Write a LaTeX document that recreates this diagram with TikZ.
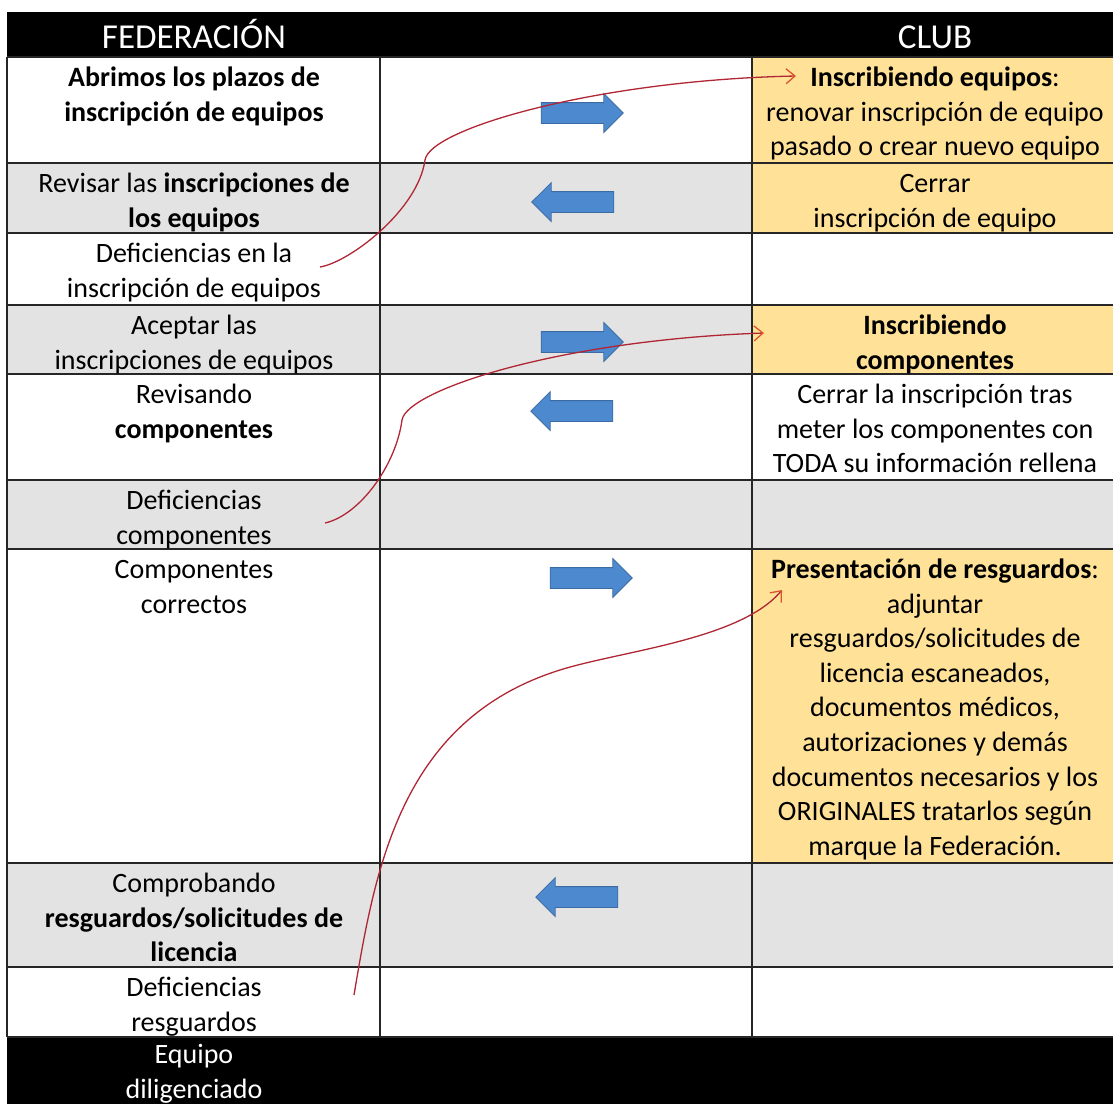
\documentclass[tikz,border=0pt]{standalone}
\usepackage{fontspec}
\setmainfont{Carlito}
\usetikzlibrary{arrows.meta,shapes.arrows,positioning}

\definecolor{gris}{RGB}{227,227,227}
\definecolor{amarillo}{RGB}{255,226,152}
\definecolor{azul}{RGB}{76,137,206}
\definecolor{azulborde}{RGB}{60,106,162}
\definecolor{rojo}{RGB}{176,38,52}
\definecolor{naranja}{RGB}{222,84,44}

\tikzstyle{texto}=[
	anchor=north,
	align=center,
	inner sep=0pt,
	font=\fontsize{28}{34.6}\selectfont
]
\tikzstyle{titulo}=[
	anchor=base,
	inner sep=0pt,
	text=white,
	font=\fontsize{35}{42}\selectfont
]
\tikzstyle{rejilla}=[
	line width=1.2pt,
	draw=black!85
]
\tikzstyle{envio}=[
	single arrow,
	draw=azulborde,
	fill=azul,
	line width=0.8pt,
	inner sep=10pt,
	minimum height=82pt,
	single arrow head extend=9pt,
	single arrow tip angle=90
]
\tikzstyle{devolucion}=[
	envio,
	shape border rotate=180
]
\tikzstyle{correccion}=[
	->,
	>={Straight Barb[length=9pt,width=15pt,color=naranja]},
	draw=rojo,
	line width=1.3pt
]

\begin{document}
\begin{tikzpicture}[x=1pt,y=-1pt]
\useasboundingbox (0,0) rectangle (1113,1104);
% fondos
\fill[black] (7,12) rectangle (1113,57);
\foreach \a/\b in {163/233,305/374,480/549,863/967}
	\fill[gris] (7,\a) rectangle (1113,\b);
\fill[amarillo] (752,57) rectangle (1113,233);
\fill[amarillo] (752,305) rectangle (1113,374);
\fill[amarillo] (752,549) rectangle (1113,863);
\fill[black] (7,1037) rectangle (1113,1104);
% rejilla
\foreach \y in {57,163,233,305,374,480,549,863,967,1037}
	\draw[rejilla] (7,\y) -- (1113,\y);
\foreach \x in {7,380,752}
	\draw[rejilla] (\x,57) -- (\x,1037);

\node[titulo] (federacion) at (194,48) {FEDERACIÓN};
\node[titulo] (club) at (935,48) {CLUB};

% federacion
\node[texto] (abrimos) at (194,62) {\strut\textbf{Abrimos los plazos de}\\\textbf{inscripción de equipos}};
\node[texto] (revisar) at (194,168) {\strut Revisar las \textbf{inscripciones de}\\\textbf{los equipos}};
\node[texto] (defEquipos) at (194,238) {\strut Deficiencias en la\\inscripción de equipos};
\node[texto] (aceptar) at (194,310) {\strut Aceptar las\\inscripciones de equipos};
\node[texto] (revisando) at (194,379) {\strut Revisando\\\textbf{componentes}};
\node[texto] (defComp) at (194,485) {\strut Deficiencias\\componentes};
\node[texto] (correctos) at (194,554) {\strut Componentes\\correctos};
\node[texto] (comprobando) at (194,868) {\strut Comprobando\\\textbf{resguardos/solicitudes de}\\\textbf{licencia}};
\node[texto] (defRes) at (194,972) {\strut Deficiencias\\resguardos};
\node[texto, text=white] (diligenciado) at (194,1039) {\strut Equipo\\diligenciado};

% club
\node[texto] (inscEquipos) at (935,62) {\strut\textbf{Inscribiendo equipos}:\\renovar inscripción de equipo\\pasado o crear nuevo equipo};
\node[texto] (cerrar) at (935,168) {\strut Cerrar\\inscripción de equipo};
\node[texto] (inscComp) at (935,310) {\strut\textbf{Inscribiendo}\\\textbf{componentes}};
\node[texto] (cerrarComp) at (935,379) {\strut Cerrar la inscripción tras\\meter los componentes con\\TODA su información rellena};
\node[texto] (presentacion) at (935,554) {\strut\textbf{Presentación de resguardos}:\\adjuntar\\resguardos/solicitudes de\\licencia escaneados,\\documentos médicos,\\autorizaciones y demás\\documentos necesarios y los\\ORIGINALES tratarlos según\\marque la Federación.};

% flechas de paso
\node[envio] (ida1) at (577,113) {};
\node[devolucion] (vuelta1) at (578,202) {};
\node[envio] (ida2) at (577,342) {};
\node[devolucion] (vuelta2) at (577,411) {};
\node[envio] (ida3) at (586,578) {};
\node[devolucion] (vuelta3) at (582,897) {};

% correcciones
\coordinate (falloEquipos) at (320,267);
\coordinate (altaEquipos) at (796,76);
\coordinate (falloComp) at (325,523);
\coordinate (altaComp) at (764,333);
\coordinate (falloRes) at (354,995);
\coordinate (altaRes) at (782,590);
\draw[correccion] (falloEquipos) .. controls (350,262) and (418,210) .. (425,160)
	.. controls (430,128) and (600,80) .. (altaEquipos);
\draw[correccion] (falloComp) .. controls (360,515) and (396,465) .. (402,420)
	.. controls (407,390) and (560,340) .. (altaComp);
\draw[correccion] (falloRes) .. controls (375,870) and (400,720) .. (560,670)
	.. controls (620,651) and (740,640) .. (altaRes);
\end{tikzpicture}
\end{document}
